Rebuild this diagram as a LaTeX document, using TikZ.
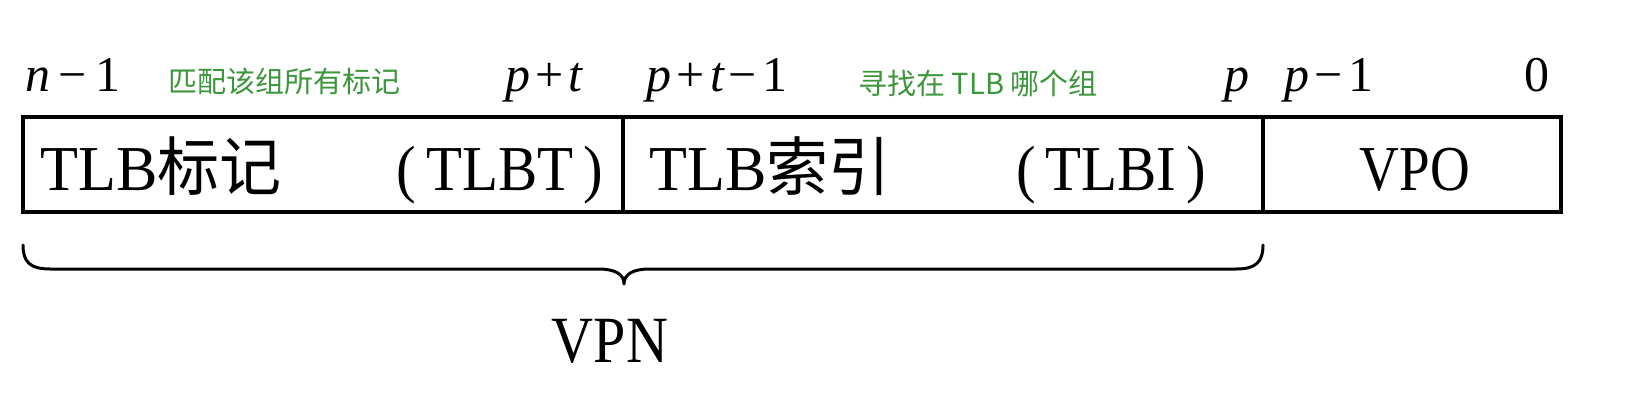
\documentclass[tikz,border=0pt]{standalone}
\usepackage{fontspec}
\setmainfont{Liberation Serif}
\newfontfamily\cjk{Noto Sans CJK SC}
\definecolor{labelgreen}{RGB}{60,150,60}
\newcommand{\opsp}{\kern5pt}
\begin{document}
\begin{tikzpicture}[x=1pt,y=-1pt,
  cell/.style={draw=black, line width=3.5pt},
  boxtext/.style={font=\fontsize{64}{70}\selectfont, inner sep=0pt, anchor=base},
  bitlabel/.style={font=\fontsize{50}{56}\selectfont, inner sep=0pt, anchor=base},
  note/.style={font=\cjk\fontsize{29}{33}\selectfont, text=labelgreen, inner sep=0pt},
  bracestyle/.style={draw=black, line width=3pt, line cap=round, line join=round}]
\useasboundingbox (0,0) rectangle (1637,404);
\fill[white] (0,0) rectangle (1637,404);
% cells
\draw[cell] (23,117) rectangle (623,212);
\draw[cell] (623,117) rectangle (1263,212);
\draw[cell] (1263,117) rectangle (1561,212);
% box texts
\node[boxtext] (tlbt) at (161,190) {\scalebox{0.97}[1]{TLB{\cjk 标记}}};
\node[boxtext] (tlbtp) at (500,190) {\scalebox{0.92}[1]{(\,TLBT\,)}};
\node[boxtext] (tlbi) at (770,190) {\scalebox{0.97}[1]{TLB{\cjk 索引}}};
\node[boxtext] (tlbip) at (1111,190) {\scalebox{0.92}[1]{(\,TLBI\,)}};
\node[boxtext] (vpo) at (1415,190) {\scalebox{0.86}[1]{VPO}};
% bit labels
\node[bitlabel] (nm1) at (73,92) {{\itshape n}\,−\,1};
\node[bitlabel] (ppt) at (544,92) {{\itshape p}\opsp+\opsp{\itshape t}};
\node[bitlabel] (pptm1) at (717,92) {{\itshape p}\opsp+\opsp{\itshape t}\opsp−\opsp1};
\node[bitlabel] (pp) at (1237,92) {{\itshape p}};
\node[bitlabel] (pm1) at (1329,92) {{\itshape p}\opsp−\opsp1};
\node[bitlabel] (zero) at (1537,92) {0};
% green notes
\node[note] (n1) at (284,81) {匹配该组所有标记};
\node[note] (n2) at (978,83) {寻找在 TLB 哪个组};
% brace
\coordinate (bl) at (23,245);
\coordinate (bt) at (624,284);
\coordinate (br) at (1263,245);
\draw[bracestyle] (bl) .. controls (23,262) and (30,269) .. (50,269) -- (598,269)
  .. controls (615,269) and (624,274) .. (bt)
  .. controls (624,274) and (633,269) .. (650,269) -- (1236,269)
  .. controls (1256,269) and (1263,262) .. (br);
\node[boxtext, font=\fontsize{66}{72}\selectfont] (vpn) at (610,362) {\scalebox{0.88}[1]{VPN}};
\end{tikzpicture}
\end{document}
